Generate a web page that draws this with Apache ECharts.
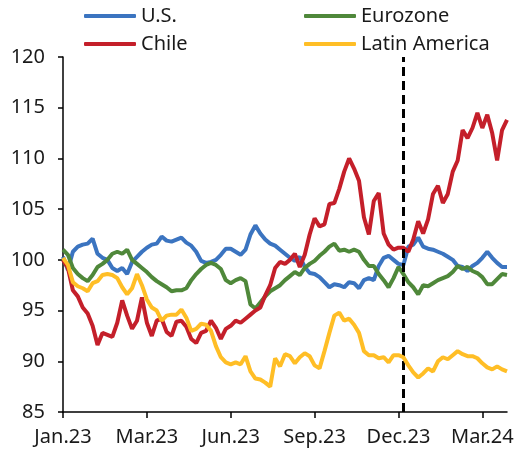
<!DOCTYPE html>
<html>
<head>
<meta charset="utf-8">
<script src="https://cdn.jsdelivr.net/npm/echarts@6/dist/echarts.min.js"></script>
<style>
html,body{margin:0;padding:0;background:#fff;}
#chart{width:519px;height:456px;}
</style>
</head>
<body>
<div id="chart"></div>
<script>
// Tick labels (one every 17 observations, starting at index 0)
const tickLabels = ['Jan.23','Mar.23','Jun.23','Sep.23','Dec.23','Mar.24'];
const tickStep = 17;
const markerIndex = 69; // dashed vertical line (Dec.23)

const us = [100.3,99.0,100.8,101.3,101.5,101.6,102.1,100.6,100.2,100.0,
 99.2,98.9,99.2,98.6,99.8,100.3,100.8,101.2,101.5,101.6,
 102.3,101.9,101.8,102.0,102.2,101.7,101.4,100.8,99.9,99.7,
 99.8,100.0,100.5,101.1,101.1,100.8,100.5,101.0,102.5,103.4,
 102.6,102.0,101.6,101.4,101.0,100.6,100.2,99.9,100.3,99.3,
 98.7,98.6,98.3,97.8,97.3,97.6,97.5,97.3,97.8,97.7,
 97.2,98.0,98.2,98.0,99.4,100.2,100.4,100.0,99.6,99.5,
 101.3,101.5,102.2,101.3,101.1,101.0,100.8,100.6,100.3,100.0,
 99.4,99.3,98.9,99.4,99.7,100.2,100.8,100.2,99.7,99.3,99.3];

const eurozone = [101.0,100.5,99.2,98.6,98.2,97.9,98.5,99.3,99.6,100.0,
 100.6,100.8,100.6,101.0,100.0,99.6,99.2,98.8,98.3,97.9,
 97.6,97.3,96.9,97.0,97.0,97.2,98.0,98.6,99.1,99.5,
 99.7,99.5,99.1,98.0,97.7,98.0,98.2,97.9,95.6,95.2,
 95.8,96.4,96.9,97.2,97.5,98.0,98.4,98.8,98.5,99.2,
 99.6,99.9,100.4,100.8,101.3,101.6,100.9,101.0,100.8,101.0,
 100.8,100.0,99.4,99.4,98.6,98.0,97.3,98.2,99.3,98.6,
 97.8,97.3,96.6,97.5,97.4,97.7,98.0,98.2,98.4,98.8,
 99.4,99.1,99.3,98.9,98.7,98.3,97.6,97.6,98.1,98.6,98.5];

const chile = [100.0,99.2,97.0,96.4,95.3,94.7,93.5,91.6,92.8,92.6,
 92.4,93.8,96.0,94.5,93.2,94.0,96.3,93.8,92.5,94.0,
 94.2,92.9,92.5,93.9,94.0,93.4,92.2,91.8,92.8,93.0,
 94.0,93.3,92.2,93.2,93.5,94.0,93.8,94.2,94.6,95.0,
 95.3,96.5,97.5,99.2,99.8,99.6,100.0,100.6,99.3,100.5,
 102.5,104.1,103.3,103.5,105.5,105.6,107.0,108.7,110.0,109.0,
 107.8,104.2,102.5,105.8,106.6,102.6,101.5,101.0,101.2,101.2,
 100.8,102.0,103.8,102.6,104.0,106.5,107.3,105.6,106.5,108.7,
 109.8,112.8,112.0,113.0,114.5,113.0,114.3,112.5,109.8,112.8,113.8];

const latinAmerica = [100.2,99.5,97.8,97.4,97.2,96.9,97.7,97.9,98.5,98.6,
 98.5,98.2,97.3,96.6,97.2,98.6,97.5,96.1,95.3,95.0,
 94.0,94.5,94.6,94.6,95.1,94.3,93.0,93.2,93.7,93.6,
 93.0,91.5,90.4,89.9,89.7,89.9,89.7,90.5,89.0,88.3,
 88.2,87.9,87.5,90.3,89.5,90.7,90.5,89.8,90.4,90.8,
 90.5,89.6,89.3,91.0,92.8,94.5,94.8,94.0,94.2,93.6,
 92.8,91.0,90.6,90.6,90.3,90.4,89.9,90.6,90.6,90.4,
 89.6,88.9,88.4,88.8,89.3,89.0,90.0,90.4,90.2,90.6,
 91.0,90.7,90.5,90.5,90.3,89.8,89.4,89.2,89.5,89.2,89.0];

const seriesNames = ['U.S.','Eurozone','Chile','Latin America'];
const seriesColors = ['#3b74c0','#4f883a','#c41f2a','#ffbe26'];
const seriesData = [us, eurozone, chile, latinAmerica];

const categories = us.map((_, i) => String(i));
const FONT = 'Noto Sans';

const chart = echarts.init(document.getElementById('chart'), null, {renderer:'canvas'});

const series = seriesNames.map((name, k) => ({
  name: name,
  type: 'line',
  data: seriesData[k],
  symbol: 'none',
  showSymbol: false,
  lineStyle: {width: 4, color: seriesColors[k]},
  itemStyle: {color: seriesColors[k]},
  animation: false,
  z: 2 + k
}));
series[0].markLine = {
  silent: true,
  symbol: ['none','none'],
  label: {show: false},
  lineStyle: {color: '#000', type: [9,5], width: 3},
  data: [{xAxis: String(markerIndex)}],
  animation: false
};

const legendCommon = {
  orient: 'vertical',
  top: 1,
  itemWidth: 52,
  itemHeight: 4,
  itemGap: 8,
  icon: 'roundRect',
  textStyle: {fontFamily: FONT, fontSize: 20, color: '#1a1a1a', lineHeight: 20},
  selectedMode: false
};

chart.setOption({
  backgroundColor: '#fff',
  animation: false,
  legend: [
    Object.assign({}, legendCommon, {left: 79, data: ['U.S.','Chile']}),
    Object.assign({}, legendCommon, {left: 299, data: ['Eurozone','Latin America']})
  ],
  grid: {left: 63, right: 12, top: 57, bottom: 44, containLabel: false},
  xAxis: {
    type: 'category',
    data: categories,
    boundaryGap: false,
    axisLine: {lineStyle: {color: '#000', width: 1.5}},
    axisTick: {show: true, interval: tickStep - 1, length: 6, inside: false, lineStyle: {color: '#000', width: 1.5}},
    axisLabel: {
      interval: tickStep - 1,
      margin: 15,
      fontFamily: FONT, fontSize: 20, color: '#1a1a1a',
      formatter: (v, i) => tickLabels[Math.round(i / tickStep)] || ''
    },
    splitLine: {show: false}
  },
  yAxis: {
    type: 'value',
    min: 85, max: 120, interval: 5,
    axisLine: {show: true, lineStyle: {color: '#000', width: 1.5}},
    axisTick: {show: true, length: 5, lineStyle: {color: '#000', width: 1.5}},
    axisLabel: {margin: 18, fontFamily: FONT, fontSize: 20, color: '#1a1a1a'},
    splitLine: {show: false}
  },
  series: series
});
</script>
</body>
</html>
